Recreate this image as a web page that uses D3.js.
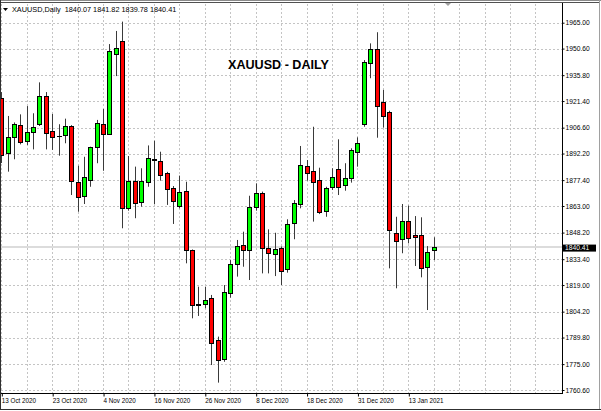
<!DOCTYPE html>
<html><head><meta charset="utf-8">
<script src="https://cdn.jsdelivr.net/npm/d3@7"></script>
<style>html,body{margin:0;padding:0;background:#fff;}svg{display:block;}</style>
</head><body>
<svg id="c" width="601" height="411"></svg>
<script>
const dates = ["13 Oct 2020","14 Oct 2020","15 Oct 2020","16 Oct 2020","19 Oct 2020","20 Oct 2020","21 Oct 2020","22 Oct 2020","23 Oct 2020","26 Oct 2020","27 Oct 2020","28 Oct 2020","29 Oct 2020","30 Oct 2020","2 Nov 2020","3 Nov 2020","4 Nov 2020","5 Nov 2020","6 Nov 2020","9 Nov 2020","10 Nov 2020","11 Nov 2020","12 Nov 2020","13 Nov 2020","16 Nov 2020","17 Nov 2020","18 Nov 2020","19 Nov 2020","20 Nov 2020","23 Nov 2020","24 Nov 2020","25 Nov 2020","26 Nov 2020","27 Nov 2020","30 Nov 2020","1 Dec 2020","2 Dec 2020","3 Dec 2020","4 Dec 2020","7 Dec 2020","8 Dec 2020","9 Dec 2020","10 Dec 2020","11 Dec 2020","14 Dec 2020","15 Dec 2020","16 Dec 2020","17 Dec 2020","18 Dec 2020","21 Dec 2020","22 Dec 2020","23 Dec 2020","24 Dec 2020","28 Dec 2020","29 Dec 2020","30 Dec 2020","31 Dec 2020","4 Jan 2021","5 Jan 2021","6 Jan 2021","7 Jan 2021","8 Jan 2021","11 Jan 2021","12 Jan 2021","13 Jan 2021","14 Jan 2021","15 Jan 2021","18 Jan 2021","19 Jan 2021"];
const open  = [1923.3,1892.7,1901.6,1908.1,1899.3,1904.0,1908.6,1924.0,1904.9,1902.0,1902.3,1907.5,1876.4,1868.7,1877.5,1895.7,1908.5,1903.1,1947.4,1955.0,1861.7,1876.9,1865.4,1876.1,1888.9,1888.2,1881.2,1872.8,1863.0,1871.3,1838.5,1808.2,1808.5,1811.6,1788.4,1777.7,1814.4,1830.6,1841.3,1838.5,1862.3,1870.4,1839.5,1836.3,1839.5,1827.8,1853.7,1863.9,1885.3,1882.5,1877.5,1860.2,1873.4,1883.6,1874.7,1878.4,1893.2,1908.6,1942.7,1950.2,1921.0,1915.5,1848.1,1844.6,1854.6,1846.9,1846.9,1829.2,1838.6];
const high  = [1926.4,1913.1,1909.5,1914.0,1918.6,1914.6,1931.8,1926.4,1914.2,1908.5,1911.6,1908.0,1885.4,1890.4,1896.0,1910.9,1917.0,1953.1,1960.4,1965.6,1890.8,1884.9,1884.0,1896.7,1899.3,1893.2,1882.0,1874.1,1879.9,1876.5,1838.8,1818.1,1818.1,1813.5,1790.3,1819.0,1832.9,1844.1,1848.7,1868.7,1875.6,1871.0,1850.0,1848.1,1840.5,1855.6,1866.3,1896.4,1888.6,1907.1,1884.3,1873.7,1884.0,1900.1,1886.8,1895.1,1901.2,1944.2,1953.5,1959.7,1927.6,1916.0,1857.0,1864.1,1863.2,1857.4,1856.7,1840.7,1845.6];
const low   = [1886.9,1882.1,1889.0,1897.3,1896.9,1894.5,1907.5,1894.5,1894.2,1891.0,1897.9,1869.1,1859.8,1864.1,1873.7,1886.8,1882.6,1902.5,1935.3,1850.6,1860.4,1856.2,1862.6,1873.7,1864.1,1877.1,1863.6,1853.0,1861.7,1831.1,1800.5,1801.8,1806.1,1774.5,1764.7,1776.3,1812.0,1823.7,1829.2,1821.8,1860.4,1825.5,1825.5,1824.0,1819.0,1825.9,1844.5,1861.7,1877.1,1854.3,1858.5,1857.0,1871.9,1869.1,1871.5,1876.0,1884.9,1907.1,1934.1,1901.0,1906.6,1828.3,1817.2,1836.7,1842.2,1829.6,1823.3,1805.1,1832.9];
const close = [1891.4,1901.4,1908.5,1898.4,1904.0,1907.1,1924.4,1903.5,1901.4,1902.2,1907.5,1877.1,1867.8,1879.1,1895.8,1909.4,1903.2,1949.3,1951.1,1861.9,1877.1,1864.8,1876.7,1889.5,1888.6,1880.2,1872.3,1865.9,1871.0,1838.5,1807.9,1808.0,1810.7,1786.9,1777.3,1815.0,1830.6,1840.9,1838.5,1862.6,1870.4,1839.5,1836.7,1839.3,1827.0,1853.0,1864.8,1885.8,1881.5,1876.5,1859.8,1873.2,1879.3,1873.4,1878.4,1894.2,1898.2,1943.0,1950.2,1918.6,1913.2,1849.6,1843.7,1854.6,1845.4,1845.9,1828.7,1837.6,1840.41];
const priceTicks = ["1965.00","1950.60","1935.80","1921.40","1906.60","1892.20","1877.40","1863.00","1848.20","1833.40","1819.00","1804.20","1789.80","1775.00","1760.60"];
const dateTicks = [0,8,16,24,32,40,48,56,64];
const gridBars = [0,4,8,12,16,20,24,28,32,36,40,44,48,52,56,60,64,68,72,76,80,84];
const header = "XAUUSD,Daily  1840.07 1841.82 1839.78 1840.41";
const title = "XAUUSD - DAILY";
const lastPrice = 1840.41;

const svg = d3.select("#c");
const plotR = 562, plotB = 393;
const x = d3.scaleLinear().domain([0, 64]).range([1.3, 408.3]);
const y = d3.scaleLinear().domain([1760.6, 1965.0]).range([390, 22.7]);

// grid
const g = svg.append("g");
gridBars.forEach(i => {
  const xx = Math.round(x(i)) + 0.5;
  if (xx < plotR) g.append("line").attr("x1", xx).attr("x2", xx).attr("y1", 4).attr("y2", plotB)
    .attr("stroke", "#c4c4c4").attr("stroke-dasharray", "2,2");
});
priceTicks.forEach(t => {
  const yy = Math.round(y(+t)) + 0.5;
  g.append("line").attr("x1", 1).attr("x2", plotR).attr("y1", yy).attr("y2", yy)
    .attr("stroke", "#c4c4c4").attr("stroke-dasharray", "2,2");
});

// last price line
const yp = y(lastPrice);
svg.append("line").attr("x1", 1).attr("x2", plotR).attr("y1", Math.round(yp)).attr("y2", Math.round(yp))
  .attr("stroke", "#d0d0d0").attr("stroke-width", 1.5);

// candles
const cg = svg.append("g");
dates.forEach((d, i) => {
  const cx = Math.round(x(i));
  cg.append("line").attr("x1", cx + 0.5).attr("x2", cx + 0.5)
    .attr("y1", y(high[i])).attr("y2", y(low[i])).attr("stroke", "#3a3a3a").attr("stroke-width", 1);
  const top = Math.round(y(Math.max(open[i], close[i])));
  const bot = Math.round(y(Math.min(open[i], close[i])));
  const up = close[i] >= open[i];
  cg.append("rect").attr("x", cx - 1.5).attr("y", top + 0.5)
    .attr("width", 4).attr("height", Math.max(0.01, bot - top))
    .attr("fill", up ? "#00ff00" : "#ff0000").attr("stroke", "#000").attr("stroke-width", 1);
});

// axes
const yAxis = d3.axisRight(y).tickValues(priceTicks.map(Number)).tickFormat(d3.format(".2f"))
  .tickSize(2).tickPadding(1);
const ya = svg.append("g").attr("transform", `translate(${plotR + 0.5},0)`).call(yAxis);
ya.select(".domain").remove();
ya.selectAll("line").attr("stroke", "#000");
ya.selectAll("text").attr("font-family", "Liberation Sans, Arial, sans-serif").attr("font-size", "6.7px").attr("fill", "#000");

const xAxis = d3.axisBottom(x).tickValues(dateTicks).tickFormat(i => dates[i]).tickSize(3).tickPadding(1);
const xa = svg.append("g").attr("transform", `translate(0,${plotB + 0.5})`).call(xAxis);
xa.select(".domain").remove();
xa.selectAll(".tick line").attr("stroke", "#000").attr("transform", "translate(0.5,0)");
xa.selectAll("text").attr("font-family", "Liberation Sans, Arial, sans-serif").attr("font-size", "6.3px")
  .attr("text-anchor", "start").attr("fill", "#000").attr("dy", "0.85em").attr("x", 0);

// axis lines / frame
svg.append("line").attr("x1", plotR + 0.5).attr("x2", plotR + 0.5).attr("y1", 2).attr("y2", plotB + 1).attr("stroke", "#000");
svg.append("line").attr("x1", 0).attr("x2", plotR + 1).attr("y1", plotB + 0.5).attr("y2", plotB + 0.5).attr("stroke", "#000");
svg.append("line").attr("x1", 0).attr("x2", 601).attr("y1", 0.5).attr("y2", 0.5).attr("stroke", "#8a8a8a");
svg.append("line").attr("x1", 0).attr("x2", 599).attr("y1", 2.5).attr("y2", 2.5).attr("stroke", "#505050");
svg.append("line").attr("x1", 0.5).attr("x2", 0.5).attr("y1", 0).attr("y2", 410).attr("stroke", "#303030");
svg.append("line").attr("x1", 599.5).attr("x2", 599.5).attr("y1", 0).attr("y2", 410).attr("stroke", "#a0a0a0");
svg.append("line").attr("x1", 0).attr("x2", 601).attr("y1", 409.5).attr("y2", 409.5).attr("stroke", "#303030");

// shift marker
svg.append("path").attr("d", "M445,3 L451,3 L448,6 Z").attr("fill", "#a0a0a0");

// last price label
svg.append("rect").attr("x", plotR + 1).attr("y", yp - 2).attr("width", 33).attr("height", 7).attr("fill", "#000");
svg.append("text").attr("x", plotR + 3).attr("y", yp + 1.5).attr("dominant-baseline", "middle")
  .attr("font-family", "Liberation Sans, Arial, sans-serif").attr("font-size", "6.7px").attr("fill", "#fff").text(lastPrice.toFixed(2));

// header
svg.append("path").attr("d", "M3,8 L8,8 L5.5,11 Z").attr("fill", "#000");
svg.append("text").attr("x", 12).attr("y", 12).attr("font-family", "Liberation Sans, Arial, sans-serif")
  .attr("font-size", "7.3px").attr("fill", "#000").attr("xml:space", "preserve").style("white-space", "pre").text(header);

// title
svg.append("text").attr("x", 228).attr("y", 69).attr("font-family", "Liberation Sans, Arial, sans-serif")
  .attr("font-size", "12.6px").attr("font-weight", "bold").attr("fill", "#000").text(title);
</script>
</body></html>
